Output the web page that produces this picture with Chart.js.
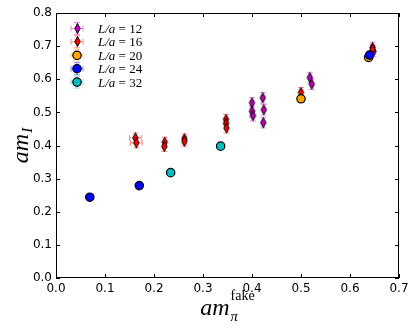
<!DOCTYPE html>
<html><head><meta charset="utf-8">
<script src="https://cdn.jsdelivr.net/npm/chart.js@4.4.0/dist/chart.umd.min.js"></script>
<style>html,body{margin:0;padding:0;background:#fff;}</style>
</head><body>
<canvas id="c" width="416" height="332"></canvas>
<script>
// ---- data ----
const seriesNames = ["12", "16", "20", "24", "32"];
const seriesColors = ["#bf00bf", "#ff0000", "#ffa500", "#0000ff", "#00bfbf"];
const seriesMarkers = ["thinDiamond", "thinDiamond", "circle", "circle", "circle"];

const l12X = [0.400, 0.400, 0.402, 0.422, 0.424, 0.423, 0.518, 0.522, 0.646, 0.648];
const l12Y = [0.529, 0.503, 0.490, 0.544, 0.508, 0.469, 0.605, 0.585, 0.696, 0.684];
const l12XErr = [0.002, 0.002, 0.002, 0.002, 0.002, 0.002, 0.002, 0.002, 0.002, 0.002];
const l12YErr = [0.016, 0.016, 0.016, 0.016, 0.016, 0.016, 0.016, 0.016, 0.016, 0.016];

const l16X = [0.162, 0.164, 0.222, 0.221, 0.262, 0.262, 0.347, 0.347, 0.348, 0.500, 0.646];
const l16Y = [0.423, 0.408, 0.410, 0.397, 0.420, 0.413, 0.479, 0.467, 0.453, 0.560, 0.690];
const l16XErr = [0.012, 0.012, 0.002, 0.002, 0.002, 0.002, 0.002, 0.002, 0.002, 0.002, 0.002];
const l16YErr = [0.015, 0.015, 0.015, 0.015, 0.015, 0.015, 0.015, 0.015, 0.015, 0.015, 0.015];

const l20X = [0.500, 0.638];
const l20Y = [0.541, 0.666];
const l20XErr = [0.002, 0.002];
const l20YErr = [0.006, 0.006];

const l24X = [0.069, 0.170, 0.640];
const l24Y = [0.244, 0.279, 0.673];
const l24XErr = [0.002, 0.002, 0.002];
const l24YErr = [0.005, 0.005, 0.005];

const l32X = [0.234, 0.336];
const l32Y = [0.318, 0.398];
const l32XErr = [0.002, 0.002];
const l32YErr = [0.005, 0.005];

const xTickValues = [0.0, 0.1, 0.2, 0.3, 0.4, 0.5, 0.6, 0.7];
const yTickValues = [0.0, 0.1, 0.2, 0.3, 0.4, 0.5, 0.6, 0.7, 0.8];

const allX = [l12X, l16X, l20X, l24X, l32X];
const allY = [l12Y, l16Y, l20Y, l24Y, l32Y];
const allXErr = [l12XErr, l16XErr, l20XErr, l24XErr, l32XErr];
const allYErr = [l12YErr, l16YErr, l20YErr, l24YErr, l32YErr];

// ---- helpers ----
function hexToRgba(hex, a) {
  const n = parseInt(hex.slice(1), 16);
  return `rgba(${(n >> 16) & 255},${(n >> 8) & 255},${n & 255},${a})`;
}
function makeThinDiamond(color) {
  const c = document.createElement('canvas');
  c.width = 9; c.height = 13;
  const g = c.getContext('2d');
  g.beginPath();
  g.moveTo(4.5, 1.5); g.lineTo(7.2, 6.5); g.lineTo(4.5, 11.5); g.lineTo(1.8, 6.5); g.closePath();
  g.fillStyle = color; g.fill();
  g.lineWidth = 1; g.strokeStyle = '#000'; g.stroke();
  return c;
}

const datasets = seriesNames.map((name, i) => {
  const marker = seriesMarkers[i] === 'thinDiamond' ? makeThinDiamond(seriesColors[i]) : 'circle';
  return {
    label: 'L/a = ' + name,
    data: allX[i].map((x, j) => ({ x: x, y: allY[i][j] })),
    xErr: allXErr[i],
    yErr: allYErr[i],
    pointStyle: marker,
    pointRadius: 4.2,
    pointHoverRadius: 4.2,
    backgroundColor: seriesColors[i],
    borderColor: '#000',
    borderWidth: 1.2,
    showLine: false,
    order: seriesNames.length - i
  };
});

function drawErr(ctx, x, y, xs, ys, xe, ye, color, cap) {
  ctx.strokeStyle = color; ctx.lineWidth = 1;
  const x0 = xs.getPixelForValue(x - xe), x1 = xs.getPixelForValue(x + xe);
  const y0 = ys.getPixelForValue(y - ye), y1 = ys.getPixelForValue(y + ye);
  const px = xs.getPixelForValue(x), py = ys.getPixelForValue(y);
  ctx.beginPath();
  ctx.moveTo(px, y0); ctx.lineTo(px, y1);
  ctx.moveTo(px - cap, y0); ctx.lineTo(px + cap, y0);
  ctx.moveTo(px - cap, y1); ctx.lineTo(px + cap, y1);
  ctx.moveTo(x0, py); ctx.lineTo(x1, py);
  ctx.moveTo(x0, py - cap); ctx.lineTo(x0, py + cap);
  ctx.moveTo(x1, py - cap); ctx.lineTo(x1, py + cap);
  ctx.stroke();
}

const SERIF = '"Liberation Serif", "DejaVu Serif", serif';

const decor = {
  id: 'decor',
  beforeDatasetDraw(chart, args) {
    const ds = chart.data.datasets[args.index];
    const ctx = chart.ctx, xs = chart.scales.x, ys = chart.scales.y;
    ctx.save();
    ds.data.forEach((p, j) => {
      drawErr(ctx, p.x, p.y, xs, ys, ds.xErr[j], ds.yErr[j], hexToRgba(seriesColors[args.index], 0.45), 3);
    });
    ctx.restore();
  },
  afterDraw(chart) {
    const ctx = chart.ctx, a = chart.chartArea, xs = chart.scales.x, ys = chart.scales.y;
    ctx.save();
    // frame
    ctx.strokeStyle = '#000'; ctx.lineWidth = 1;
    ctx.strokeRect(a.left + 0.5, a.top + 0.5, a.right - a.left - 1, a.bottom - a.top - 1);
    // inward ticks on all sides
    ctx.beginPath();
    xTickValues.forEach(v => {
      const px = Math.round(xs.getPixelForValue(v)) + 0.5;
      ctx.moveTo(px, a.bottom); ctx.lineTo(px, a.bottom - 4);
      ctx.moveTo(px, a.top); ctx.lineTo(px, a.top + 4);
    });
    yTickValues.forEach(v => {
      const py = Math.round(ys.getPixelForValue(v)) + 0.5;
      ctx.moveTo(a.left, py); ctx.lineTo(a.left + 4, py);
      ctx.moveTo(a.right, py); ctx.lineTo(a.right - 4, py);
    });
    ctx.stroke();

    // x title: am_pi^fake
    ctx.fillStyle = '#000';
    ctx.textBaseline = 'alphabetic';
    ctx.textAlign = 'left';
    const fBig = 'italic 24px ' + SERIF, fSubI = 'italic 15px ' + SERIF, fSup = '14px ' + SERIF;
    ctx.font = fBig; const wam = ctx.measureText('am').width;
    ctx.font = fSup; const wfake = ctx.measureText('fake').width;
    const cx = (a.left + a.right) / 2;
    let sx = cx - (wam + wfake + 1) / 2;
    ctx.font = fBig; ctx.fillText('am', sx, 315);
    ctx.font = fSubI; ctx.fillText('π', sx + wam + 1, 321);
    ctx.font = fSup; ctx.fillText('fake', sx + wam + 1, 300);

    // y title: am_I
    ctx.save();
    ctx.translate(28, (a.top + a.bottom) / 2);
    ctx.rotate(-Math.PI / 2);
    ctx.font = fBig; const wam2 = ctx.measureText('am').width;
    ctx.font = fSubI; const wI = ctx.measureText('I').width;
    const sy = -(wam2 + wI + 1) / 2;
    ctx.font = fBig; ctx.fillText('am', sy, 0);
    ctx.font = fSubI; ctx.fillText('I', sy + wam2 + 1, 4);
    ctx.restore();

    // legend
    chart.data.datasets.forEach((ds, i) => {
      const lx = 77, ly = 28.5 + i * 13.4;
      const col = hexToRgba(seriesColors[i], 0.45);
      ctx.strokeStyle = col; ctx.lineWidth = 1;
      ctx.beginPath();
      ctx.moveTo(lx, ly - 6); ctx.lineTo(lx, ly + 6);
      ctx.moveTo(lx - 3, ly - 6); ctx.lineTo(lx + 3, ly - 6);
      ctx.moveTo(lx - 3, ly + 6); ctx.lineTo(lx + 3, ly + 6);
      ctx.moveTo(lx - 6, ly); ctx.lineTo(lx + 6, ly);
      ctx.moveTo(lx - 6, ly - 3); ctx.lineTo(lx - 6, ly + 3);
      ctx.moveTo(lx + 6, ly - 3); ctx.lineTo(lx + 6, ly + 3);
      ctx.stroke();
      if (ds.pointStyle instanceof HTMLCanvasElement) {
        ctx.drawImage(ds.pointStyle, Math.round(lx - ds.pointStyle.width / 2), Math.round(ly - ds.pointStyle.height / 2));
      } else {
        ctx.beginPath(); ctx.arc(lx, ly, 4.2, 0, Math.PI * 2);
        ctx.fillStyle = seriesColors[i]; ctx.fill();
        ctx.strokeStyle = '#000'; ctx.lineWidth = 1.2; ctx.stroke();
      }
      // label text: italic L/a, roman " = NN"
      ctx.fillStyle = '#000';
      ctx.font = 'italic 13px ' + SERIF;
      const t1 = 'L/a';
      ctx.fillText(t1, 98, ly + 4.5);
      const w1 = ctx.measureText(t1).width;
      ctx.font = '13px ' + SERIF;
      ctx.fillText(' = ' + seriesNames[i], 98 + w1, ly + 4.5);
    });
    ctx.restore();
  }
};

new Chart(document.getElementById('c'), {
  type: 'scatter',
  data: { datasets: datasets },
  options: {
    responsive: false,
    animation: false,
    devicePixelRatio: 1,
    layout: { padding: { left: 0, right: 17, top: 13, bottom: 0 } },
    plugins: { legend: { display: false }, tooltip: { enabled: false } },
    scales: {
      x: {
        type: 'linear', min: 0, max: 0.7,
        afterBuildTicks: s => { s.ticks = xTickValues.map(v => ({ value: v })); },
        afterFit: s => { s.height = 54; },
        ticks: {
          autoSkip: false, maxRotation: 0, padding: 4, color: '#000',
          font: { family: '"DejaVu Sans"', size: 12 },
          callback: v => Number(v).toFixed(1)
        },
        grid: { display: false, drawTicks: false },
        border: { display: false }
      },
      y: {
        type: 'linear', min: 0, max: 0.8,
        afterBuildTicks: s => { s.ticks = yTickValues.map(v => ({ value: v })); },
        afterFit: s => { s.width = 56; },
        ticks: {
          autoSkip: false, padding: 4, color: '#000',
          font: { family: '"DejaVu Sans"', size: 12 },
          callback: v => Number(v).toFixed(1)
        },
        grid: { display: false, drawTicks: false },
        border: { display: false }
      }
    }
  },
  plugins: [decor]
});
</script>
</body></html>
